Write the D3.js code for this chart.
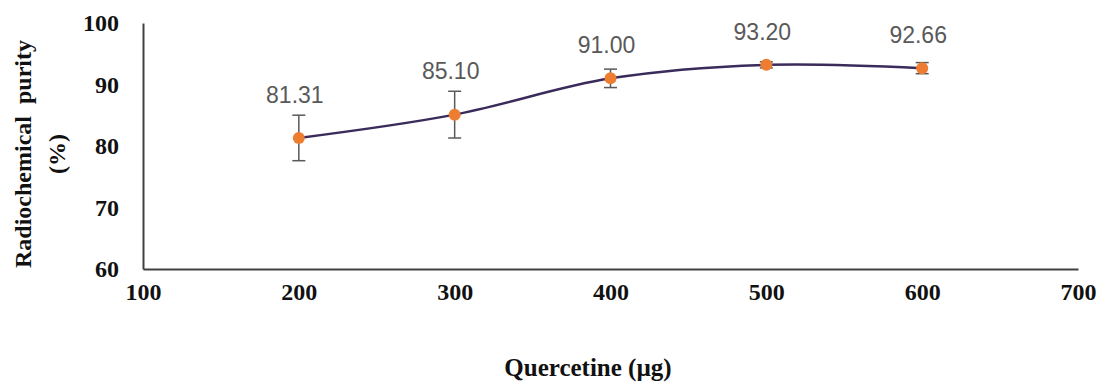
<!DOCTYPE html>
<html>
<head>
    <title>Radiochemical purity vs Quercetine</title>
    <style>
        body { margin: 0; background: #fff; }
        .serif { font-family: "Liberation Serif", "DejaVu Serif", serif; font-weight: bold; fill: #111; }
        .lbl { font-family: "Liberation Sans", Arial, sans-serif; fill: #595959; }
    </style>
</head>
<body>
    <div id="chart"></div>

    <script src="https://d3js.org/d3.v7.min.js"></script>
    <script>
        // data
        var quercetine = [200, 300, 400, 500, 600];
        var purity = [81.31, 85.10, 91.00, 93.20, 92.66];
        var errors = [3.7, 3.8, 1.5, 0.5, 0.9];
        var xTicks = [100, 200, 300, 400, 500, 600, 700];
        var yTicks = [60, 70, 80, 90, 100];

        var width = 1098, height = 383;
        var margin = { left: 143, right: 20, top: 23, bottom: 114 };

        var svg = d3.select("#chart").append("svg")
            .attr("width", width)
            .attr("height", height);

        var x = d3.scaleLinear().domain([100, 700]).range([margin.left, width - margin.right]);
        var y = d3.scaleLinear().domain([60, 100]).range([height - margin.bottom, margin.top]);

        // axes (line only, no ticks)
        var xAxis = svg.append("g")
            .attr("transform", "translate(0," + y(60) + ")")
            .call(d3.axisBottom(x).tickValues(xTicks).tickSize(0).tickPadding(14));
        var yAxis = svg.append("g")
            .attr("transform", "translate(" + x(100) + ",0)")
            .call(d3.axisLeft(y).tickValues(yTicks).tickSize(0).tickPadding(24));

        [xAxis, yAxis].forEach(function (a) {
            a.select(".domain").attr("stroke", "#404040").attr("stroke-width", 2);
            a.selectAll("text").attr("class", "serif").attr("font-size", 24);
        });
        xAxis.selectAll("text").attr("dy", "0.71em");

        // smooth line
        var pts = quercetine.map(function (q, i) { return [q, purity[i]]; });
        var line = d3.line()
            .x(function (d) { return x(d[0]); })
            .y(function (d) { return y(d[1]); })
            .curve(d3.curveCardinal.tension(0));

        svg.append("path")
            .datum(pts)
            .attr("d", line)
            .attr("fill", "none")
            .attr("stroke", "#3b2b5b")
            .attr("stroke-width", 2.5);

        // error bars
        var eb = svg.append("g").attr("stroke", "#595959").attr("stroke-width", 1.5);
        quercetine.forEach(function (q, i) {
            var cx = x(q), y1 = y(purity[i] + errors[i]), y2 = y(purity[i] - errors[i]);
            eb.append("line").attr("x1", cx).attr("x2", cx).attr("y1", y1).attr("y2", y2);
            eb.append("line").attr("x1", cx - 6.5).attr("x2", cx + 6.5).attr("y1", y1).attr("y2", y1);
            eb.append("line").attr("x1", cx - 6.5).attr("x2", cx + 6.5).attr("y1", y2).attr("y2", y2);
        });

        // markers
        svg.selectAll(".dot")
            .data(pts)
            .enter()
            .append("circle")
            .attr("cx", function (d) { return x(d[0]); })
            .attr("cy", function (d) { return y(d[1]); })
            .attr("r", 6)
            .attr("fill", "#ed7d31");

        // data labels
        svg.selectAll(".val")
            .data(pts)
            .enter()
            .append("text")
            .attr("class", "lbl")
            .attr("font-size", 23)
            .attr("text-anchor", "middle")
            .attr("x", function (d) { return x(d[0]) - 4; })
            .attr("y", function (d, i) {
                return Math.min(y(d[1]) - 25, y(d[1] + errors[i]) - 12);
            })
            .text(function (d) { return d[1].toFixed(2); });

        // axis titles
        svg.append("text")
            .attr("class", "serif")
            .attr("font-size", 25)
            .attr("text-anchor", "middle")
            .attr("x", 588)
            .attr("y", 376)
            .text("Quercetine (µg)");

        var yt = svg.append("text")
            .attr("class", "serif")
            .attr("font-size", 24)
            .attr("text-anchor", "middle")
            .attr("transform", "translate(0,154) rotate(-90)")
            .style("white-space", "pre");
        yt.append("tspan").attr("x", 0).attr("y", 31).text("Radiochemical  purity");
        yt.append("tspan").attr("x", 0).attr("y", 65).text("(%)");
    </script>
</body>
</html>
